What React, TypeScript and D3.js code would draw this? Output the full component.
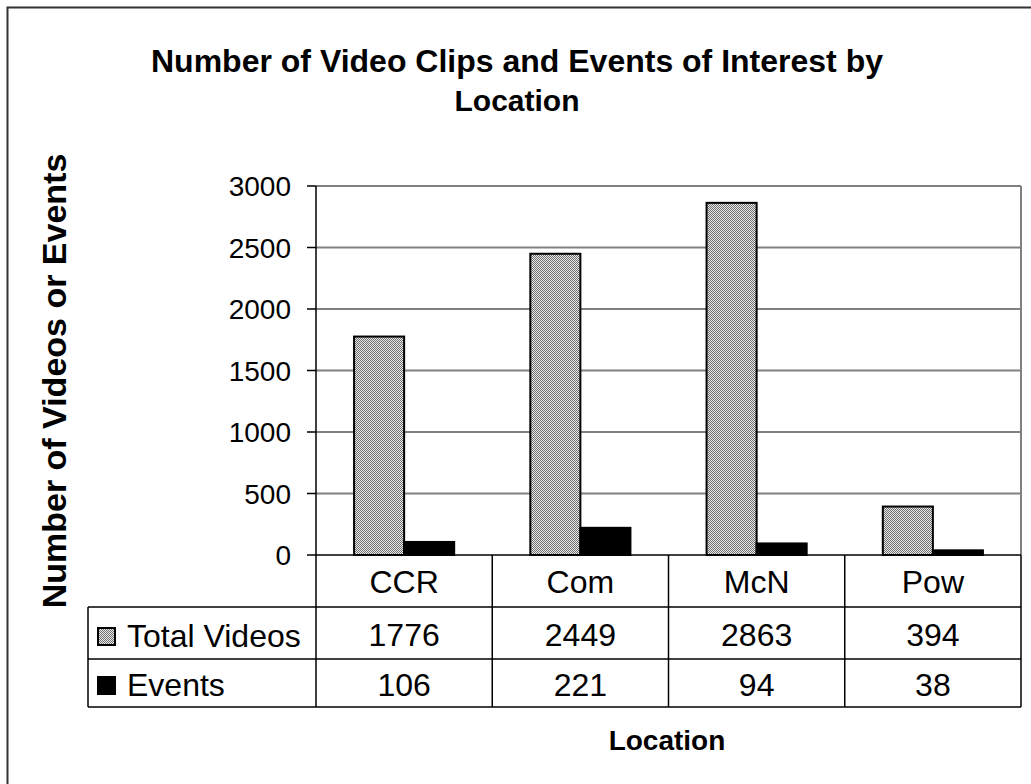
import React from "react";
import * as d3 from "d3";

const categories = ["CCR", "Com", "McN", "Pow"];
const seriesNames = ["Total Videos", "Events"];
const totalVideos = [1776, 2449, 2863, 394];
const events = [106, 221, 94, 38];
const yTicks = [0, 500, 1000, 1500, 2000, 2500, 3000];

const FONT = "'Liberation Sans', Arial, sans-serif";

export default function App() {
  const W = 1031, H = 784;
  const left = 316, right = 1021, top = 186, bottom = 555;
  const x = d3.scaleBand<string>().domain(categories).range([left, right]).paddingInner(0).paddingOuter(0);
  const y = d3.scaleLinear().domain([0, 3000]).range([bottom, top]);
  const bw = x.bandwidth();
  const barW = bw * 0.284;
  const seriesData = [totalVideos, events];
  const rowTop = [555, 607, 659, 707];
  const tableLeft = 88;

  return (
    <svg width={W} height={H} style={{ position: "absolute", left: 0, top: 0 }}>
      <defs>
        <pattern id="dots" patternUnits="userSpaceOnUse" width={2} height={2}>
          <rect x={0} y={0} width={2} height={2} fill="#e8e8e8" />
          <rect x={0} y={0} width={1} height={1} fill="#707070" />
          <rect x={1} y={1} width={1} height={1} fill="#707070" />
        </pattern>
      </defs>
      <rect x={0} y={0} width={W} height={H} fill="#fff" />
      <rect x={7.5} y={7.5} width={1040} height={800} fill="none" stroke="#333" strokeWidth={2} />

      {/* Title */}
      <text x={517} y={72} textAnchor="middle" fontFamily={FONT} fontWeight="bold" fontSize={32}>
        Number of Video Clips and Events of Interest by
      </text>
      <text x={517} y={111} textAnchor="middle" fontFamily={FONT} fontWeight="bold" fontSize={30}>
        Location
      </text>

      {/* gridlines */}
      {yTicks.filter(t => t > 0).map(t => (
        <line key={t} x1={left} x2={right} y1={y(t)} y2={y(t)} stroke="#808080" strokeWidth={2} />
      ))}
      <line x1={right} x2={right} y1={top} y2={bottom} stroke="#808080" strokeWidth={2} />

      {/* bars */}
      {categories.map((c, i) => {
        const cx = (x(c) as number) + bw / 2;
        return seriesData.map((s, j) => {
          const bx = cx - barW + j * barW;
          return (
            <rect key={c + j} x={bx} y={y(s[i])} width={barW} height={bottom - y(s[i])}
              fill={j === 0 ? "url(#dots)" : "#000"} stroke="#000" strokeWidth={2} />
          );
        });
      })}

      {/* y axis */}
      <line x1={left} x2={left} y1={top} y2={bottom} stroke="#000" strokeWidth={1.5} />
      {yTicks.map(t => (
        <g key={t}>
          <line x1={left - 9} x2={left} y1={y(t)} y2={y(t)} stroke="#000" strokeWidth={1.5} />
          <text x={291} y={y(t) + 10} textAnchor="end" fontFamily={FONT} fontSize={28}>{t}</text>
        </g>
      ))}
      <text transform={`translate(66,381) rotate(-90)`} textAnchor="middle" fontFamily={FONT} fontWeight="bold" fontSize={34}>
        Number of Videos or Events
      </text>

      {/* data table */}
      <line x1={left} x2={right} y1={bottom} y2={bottom} stroke="#000" strokeWidth={1.5} />
      {[1, 2, 3].map(r => (
        <line key={r} x1={tableLeft} x2={right} y1={rowTop[r]} y2={rowTop[r]} stroke="#000" strokeWidth={1.5} />
      ))}
      <line x1={tableLeft} x2={tableLeft} y1={rowTop[1]} y2={rowTop[3]} stroke="#000" strokeWidth={1.5} />
      {categories.map(c => (
        <line key={c} x1={x(c) as number} x2={x(c) as number} y1={bottom} y2={rowTop[3]} stroke="#000" strokeWidth={1.5} />
      ))}
      <line x1={right} x2={right} y1={bottom} y2={rowTop[3]} stroke="#000" strokeWidth={1.5} />

      {categories.map((c, i) => {
        const cx = (x(c) as number) + bw / 2;
        return (
          <g key={c}>
            <text x={cx} y={593} textAnchor="middle" fontFamily={FONT} fontSize={32}>{c}</text>
            <text x={cx} y={646} textAnchor="middle" fontFamily={FONT} fontSize={32}>{totalVideos[i]}</text>
            <text x={cx} y={696} textAnchor="middle" fontFamily={FONT} fontSize={32}>{events[i]}</text>
          </g>
        );
      })}

      {/* legend keys in table */}
      {seriesNames.map((n, j) => {
        const base = j === 0 ? 647 : 696;
        return (
          <g key={n}>
            <rect x={98} y={base - 19} width={17} height={17} fill={j === 0 ? "url(#dots)" : "#000"} stroke="#000" strokeWidth={2} />
            <text x={127} y={base} fontFamily={FONT} fontSize={32}>{n}</text>
          </g>
        );
      })}

      <text x={667} y={750} textAnchor="middle" fontFamily={FONT} fontWeight="bold" fontSize={28}>
        Location
      </text>
    </svg>
  );
}
